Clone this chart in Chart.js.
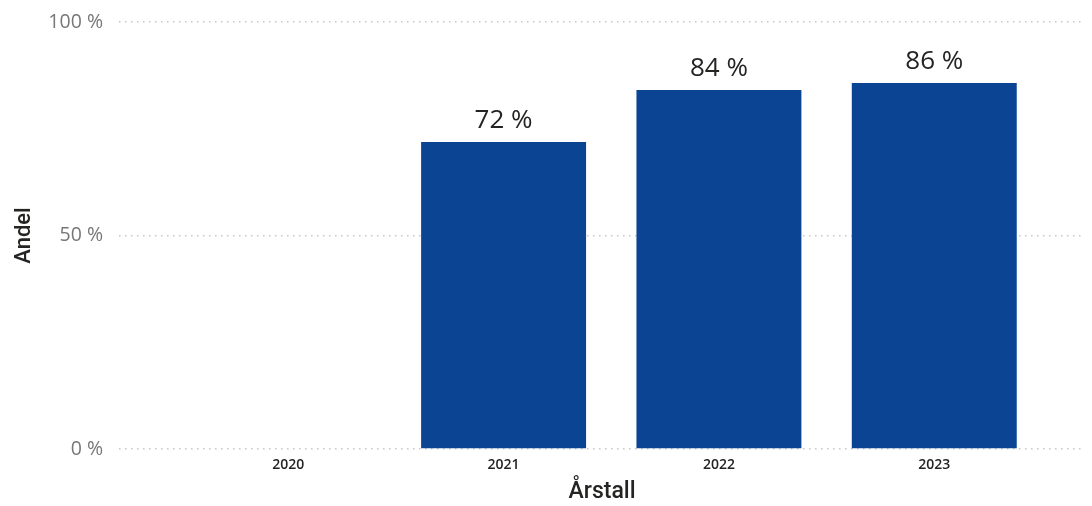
<!DOCTYPE html>
<html>
<head>
<meta charset="utf-8">
<script src="https://cdn.jsdelivr.net/npm/chart.js@4/dist/chart.umd.min.js"></script>
<style>
  html, body { margin: 0; padding: 0; background: #ffffff; }
  #wrap { width: 1092px; height: 506px; position: relative; }
</style>
</head>
<body>
<div id="wrap"><canvas id="c"></canvas></div>
<script>
const years = [2020, 2021, 2022, 2023];
const andel = [null, 71.9, 84.1, 85.7];
const yTicks = [0, 50, 100];
const xTitle = 'Årstall';
const yTitle = 'Andel';

const barColor = '#0a4493';

const points = years.map((y, i) => ({ x: y, y: andel[i] }));

const labelPlugin = {
  id: 'barLabels',
  afterDatasetsDraw(chart) {
    const ctx = chart.ctx;
    const meta = chart.getDatasetMeta(0);
    ctx.save();
    ctx.font = '400 26px "Open Sans", "Noto Sans", sans-serif';
    ctx.fillStyle = '#252423';
    ctx.textAlign = 'center';
    ctx.textBaseline = 'alphabetic';
    meta.data.forEach((el, i) => {
      const v = andel[i];
      if (v === null || v === undefined) return;
      ctx.fillText(Math.round(v) + ' %', el.x, el.y - 14);
    });
    ctx.restore();
  }
};

new Chart(document.getElementById('c'), {
  type: 'bar',
  data: {
    datasets: [{
      data: points,
      backgroundColor: barColor,
      borderWidth: 0,
      barPercentage: 0.766,
      categoryPercentage: 1.0
    }]
  },
  options: {
    responsive: true,
    maintainAspectRatio: false,
    animation: false,
    layout: { padding: { top: 22, right: 7, left: 0, bottom: 0 } },
    plugins: { legend: { display: false }, tooltip: { enabled: false } },
    scales: {
      x: {
        type: 'linear',
        offset: false,
        min: 2019.214,
        max: 2023.7,
        afterBuildTicks(scale) { scale.ticks = years.map(v => ({ value: v })); },
        afterFit(scale) { scale.height = 57; scale.paddingLeft = 0; scale.paddingRight = 0; },
        grid: { display: false, drawTicks: false, offset: false },
        border: { display: false },
        ticks: {
          padding: 8,
          color: '#252423',
          font: { family: '"Open Sans", "Noto Sans", sans-serif', size: 14, weight: '600' },
          callback: v => String(v),
          maxRotation: 0
        },
        title: {
          display: true,
          text: xTitle,
          color: '#252423',
          font: { family: 'Roboto, "DejaVu Sans", sans-serif', size: 23, weight: '500' },
          padding: { top: 0, bottom: 0 }
        }
      },
      y: {
        min: 0,
        max: 100,
        afterBuildTicks(scale) { scale.ticks = yTicks.map(v => ({ value: v })); },
        afterFit(scale) { scale.width = 119; scale.paddingTop = 0; scale.paddingBottom = 0; },
        grid: {
          color: '#c8c6c4',
          lineWidth: 1.5,
          drawTicks: false
        },
        border: { display: false, dash: [1.5, 4.5] },
        ticks: {
          padding: 16,
          color: '#777777',
          font: { family: '"Open Sans", "Noto Sans", sans-serif', size: 19.5 },
          callback: v => v + ' %'
        },
        title: {
          display: true,
          text: yTitle,
          color: '#252423',
          font: { family: 'Roboto, "DejaVu Sans", sans-serif', size: 22, weight: '500' },
          padding: { top: 11, bottom: 0 }
        }
      }
    }
  },
  plugins: [labelPlugin]
});
</script>
</body>
</html>
